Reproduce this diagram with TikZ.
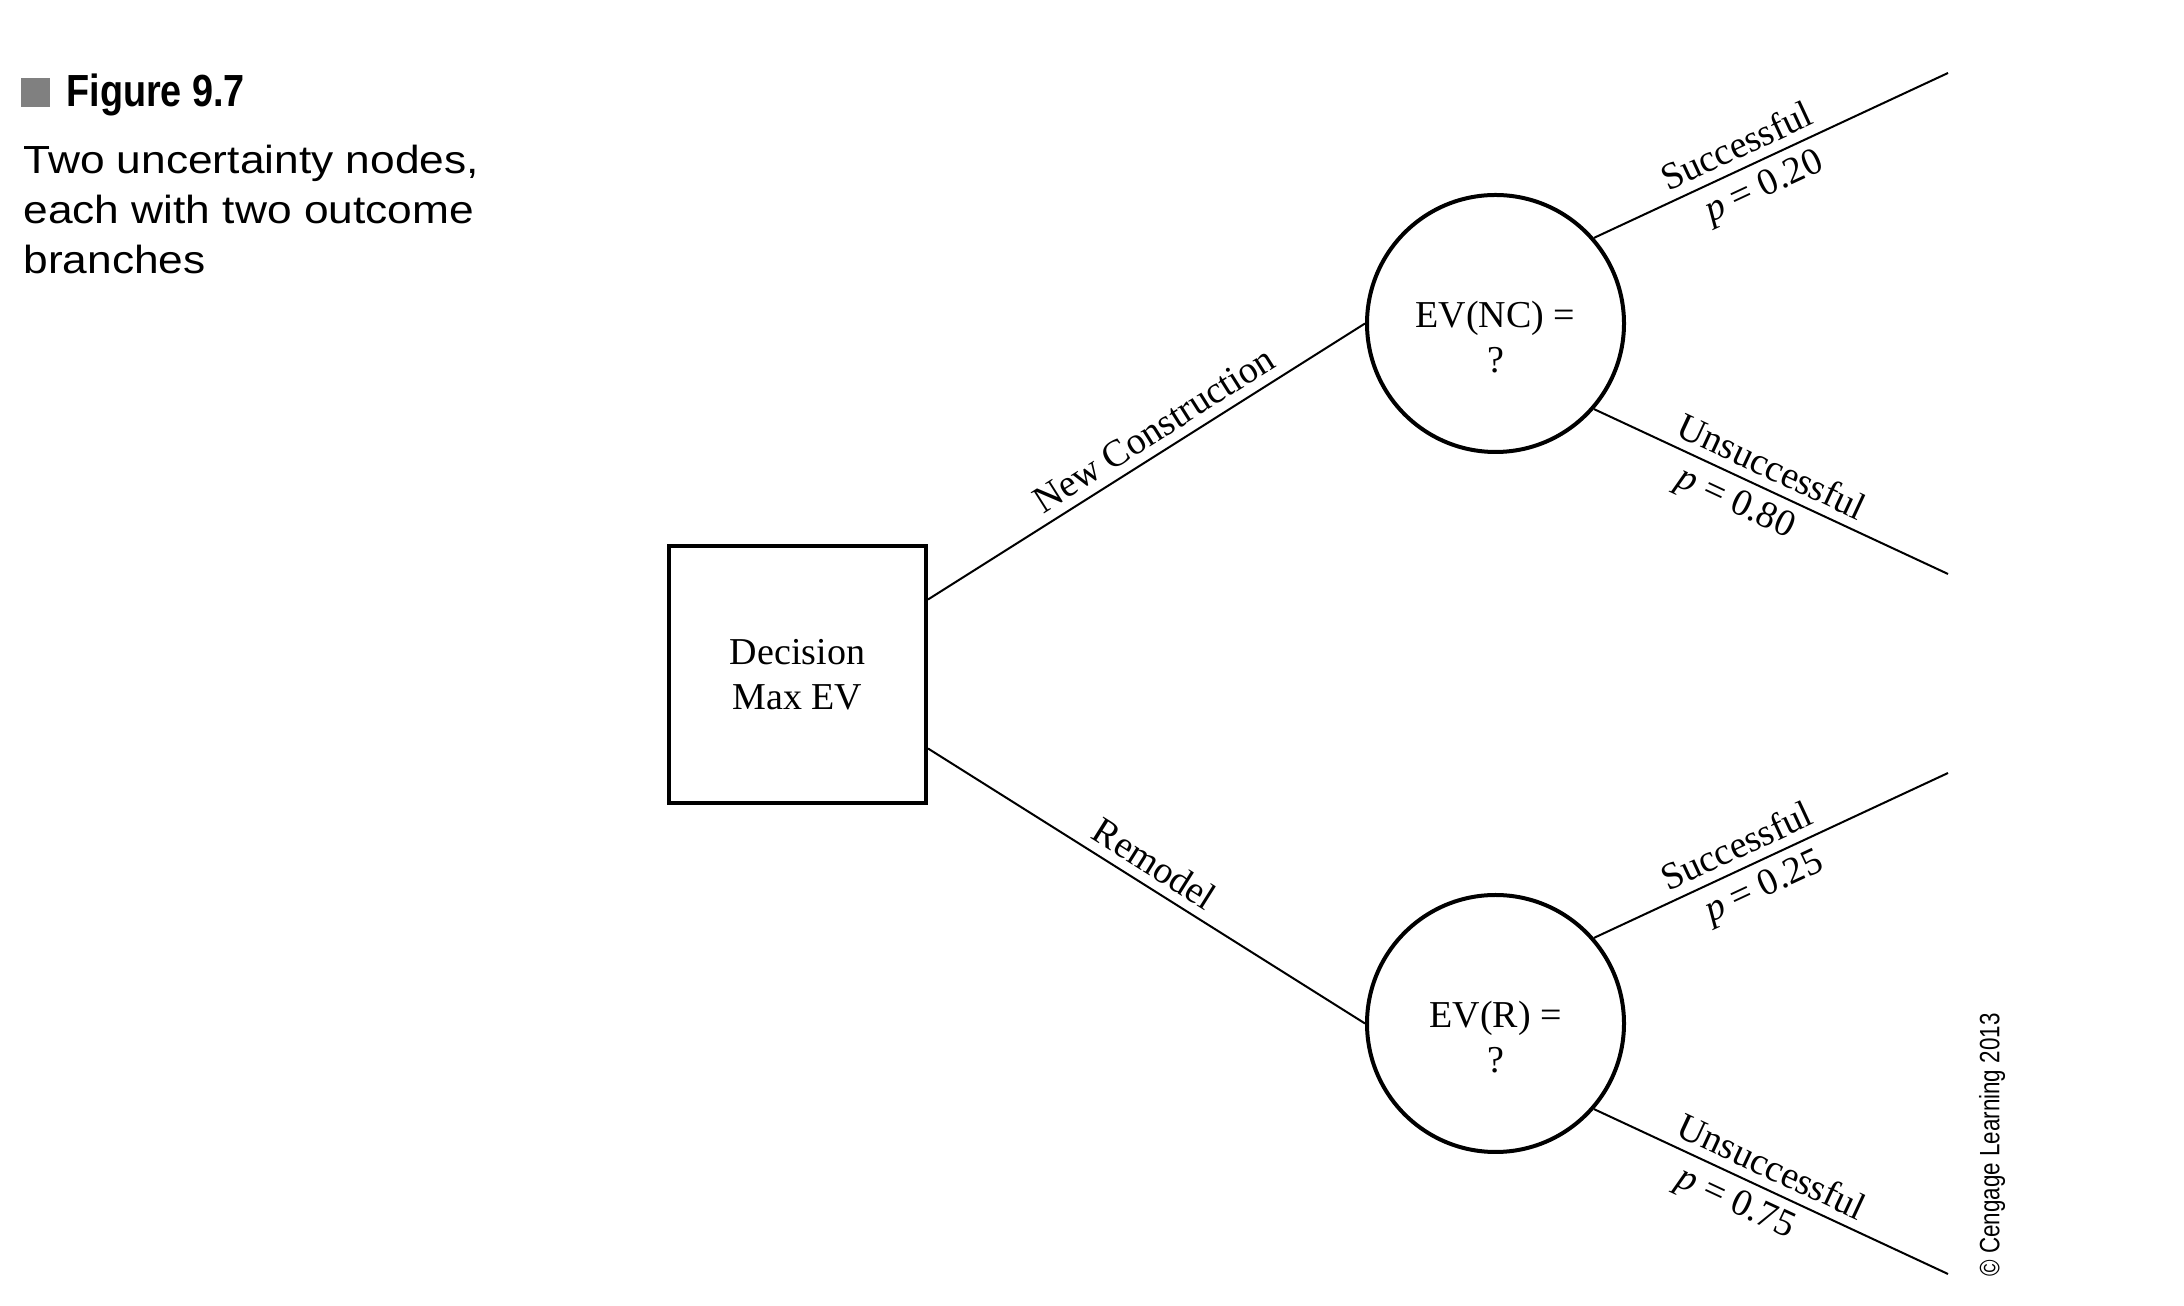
\documentclass[tikz,border=0pt]{standalone}
\usepackage{fontspec}
\setmainfont{Liberation Serif}
\setsansfont{Liberation Sans}
\newfontfamily\condfont{Liberation Sans}[FakeStretch=0.84]
\newfontfamily\creditfont{Liberation Sans}[FakeStretch=0.8]
\newfontfamily\capfont{Liberation Sans}[FakeStretch=1.13]
\usetikzlibrary{positioning}
\definecolor{markgray}{RGB}{128,128,128}
\tikzset{
	decision/.style={draw,line width=2pt,minimum size=128.5pt,inner sep=0pt,align=center,font=\fontsize{19}{22.5}\selectfont},
	chance/.style={draw,circle,line width=2pt,minimum size=128.5pt,inner sep=0pt},
	evtext/.style={align=center,font=\fontsize{19}{22.5}\selectfont},
	branch/.style={line width=1pt},
	blabel/.style={sloped,inner sep=4.5pt,font=\fontsize{19}{21}\selectfont},
}

\begin{document}
\begin{tikzpicture}[x=0.5pt,y=0.5pt]
				\newcommand \BranchRun {452.5};
				\newcommand \BranchRise {250.5};
				\useasboundingbox (0,0) rectangle (2184,1306);
				\node[fill=markgray,minimum size=14.5pt,inner sep=0pt,anchor=south west] (mark) at (21,1199) {};
				\node[anchor=base west,inner sep=0pt,font=\condfont\bfseries\fontsize{22.5}{26}\selectfont] (title) at (66,1199) {Figure 9.7};
				\node[anchor=north west,inner sep=0pt,align=left,font=\capfont\fontsize{19.6}{25}\selectfont] (caption) at (23,1161) {Two uncertainty nodes,\\each with two outcome\\branches};
				\node[decision] (dec) at (797.5,631.5) {Decision\\Max EV};
				\node[chance] (nc) at (1495.5,982.5) {};
				\node[chance] (r) at (1495.5,282.5) {};
				\node[evtext] (nc-text) at ([yshift=-7pt]nc.center) {EV(NC) =\\?};
				\node[evtext] (r-text) at ([yshift=-7pt]r.center) {EV(R) =\\?};
				\foreach \ev in {nc, r} {
					\coordinate (\ev-s) at ([shift={(\BranchRun,\BranchRise)}]\ev.center);
					\coordinate (\ev-u) at ([shift={(\BranchRun,-\BranchRise)}]\ev.center);
				};
				\draw[branch] ([yshift=37.5pt]dec.east) -- (nc.west) node[blabel,pos=0.545,above] {New Construction};
				\draw[branch] ([yshift=-37pt]dec.east) -- (r.west) node[blabel,pos=0.49,above] {Remodel};
				\foreach \ev/\ps/\pu in {nc/0.20/0.80, r/0.25/0.75} {
					\draw[branch] (\ev.41) -- (\ev-s)
						node[blabel,pos=0.43,above] {Successful}
						node[blabel,pos=0.45,below] {\textit{p} = \ps};
					\draw[branch] (\ev.-41) -- (\ev-u)
						node[blabel,pos=0.475,above] {Unsuccessful}
						node[blabel,pos=0.43,below] {\textit{p} = \pu};
				};
				\node[rotate=90,inner sep=0pt,font=\creditfont\fontsize{14}{16}\selectfont] (credit) at (1992,161) {\textcopyright{} Cengage Learning 2013};
			\end{tikzpicture}
\end{document}
